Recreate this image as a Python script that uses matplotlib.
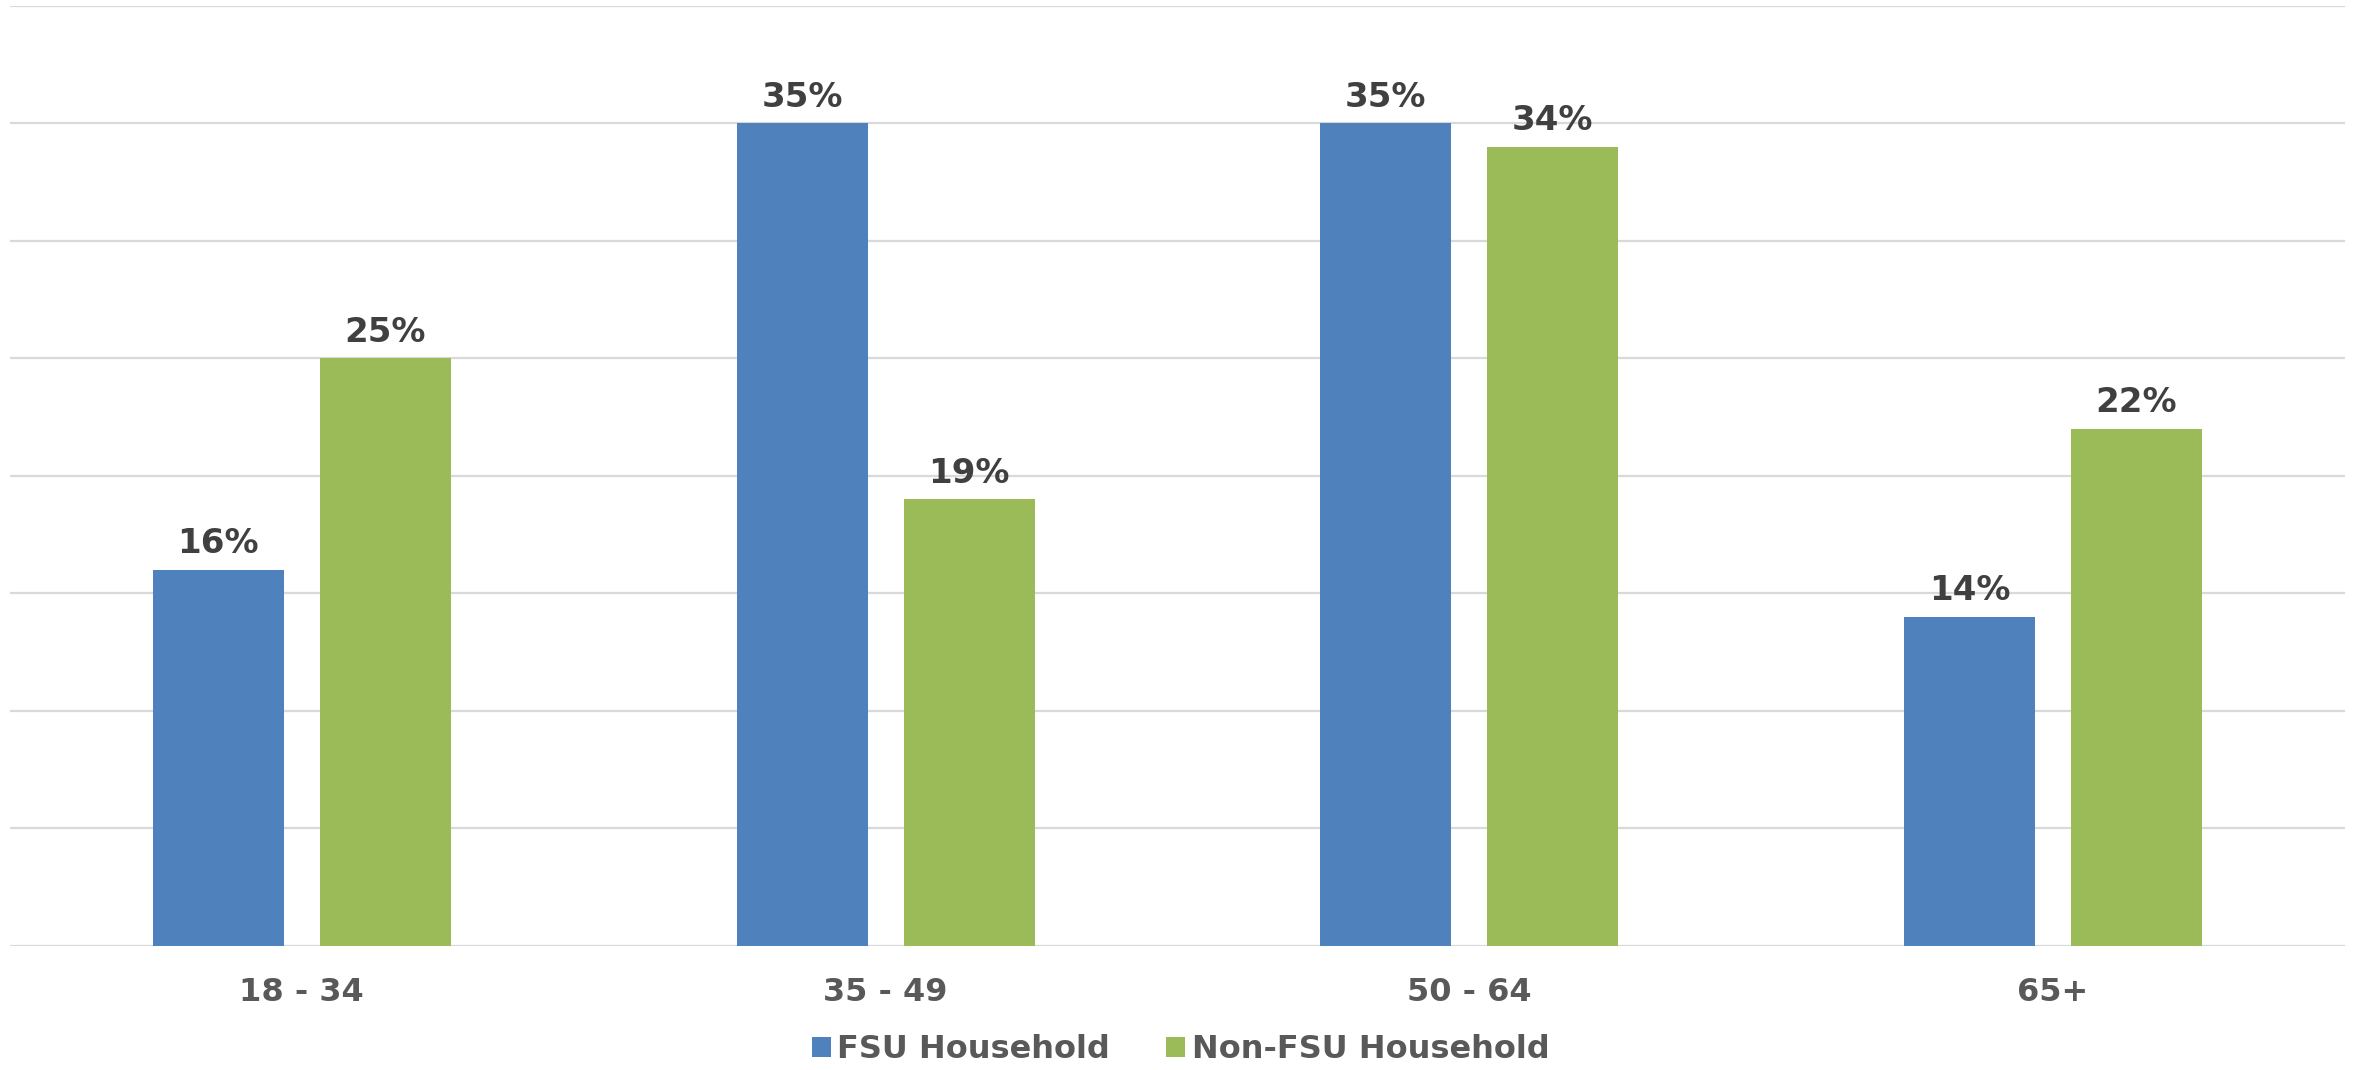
import matplotlib
matplotlib.use("Agg")
import matplotlib.pyplot as plt
from matplotlib.patches import Patch
import numpy as np

categories = ["18 - 34", "35 - 49", "50 - 64", "65+"]
fsu_values = [16, 35, 35, 14]
non_fsu_values = [25, 19, 34, 22]
series_names = ["FSU Household", "Non-FSU Household"]

blue = "#4F81BD"
green = "#9BBB59"
grid_color = "#D9D9D9"
label_color = "#404040"
axis_color = "#595959"

plt.rcParams['font.family'] = ['DejaVu Sans']

fig = plt.figure(figsize=(23.61, 10.70), dpi=100)
ax = fig.add_axes([0.0042, 0.1159, 0.9890, 0.8785])

x = np.arange(len(categories))
w = 0.2245
off = 0.143

b1 = ax.bar(x - off, fsu_values, width=w, color=blue, zorder=3)
b2 = ax.bar(x + off, non_fsu_values, width=w, color=green, zorder=3)

for bars, vals in ((b1, fsu_values), (b2, non_fsu_values)):
    for rect, v in zip(bars, vals):
        ax.annotate(f"{v}%", (rect.get_x() + rect.get_width() / 2, rect.get_height()),
                    xytext=(0, 12), textcoords="offset points", ha="center", va="baseline",
                    fontsize=24.5, fontweight="heavy", color=label_color)

ax.set_xlim(-0.5, len(categories) - 0.5)
ax.set_ylim(0, 40)
ax.set_yticks(np.arange(0, 41, 5))
ax.set_yticklabels([])
ax.yaxis.grid(True, color=grid_color, linewidth=1.6, zorder=0)
ax.set_axisbelow(True)
ax.tick_params(axis="y", length=0)
ax.set_xticks(x)
ax.set_xticklabels(categories, fontsize=23, fontweight="bold", color=axis_color)
ax.tick_params(axis="x", length=0, pad=22)
for s in ax.spines.values():
    s.set_visible(False)

handles = [Patch(facecolor=blue), Patch(facecolor=green)]
fig.legend(handles, series_names, loc="center", bbox_to_anchor=(0.5, 0.019), ncol=2,
           frameon=False, handlelength=0.6, handleheight=0.6, handletextpad=0.2,
           columnspacing=1.75, prop={"size": 23, "weight": "bold"}, labelcolor=axis_color)

fig.savefig("out.png", dpi=100)
